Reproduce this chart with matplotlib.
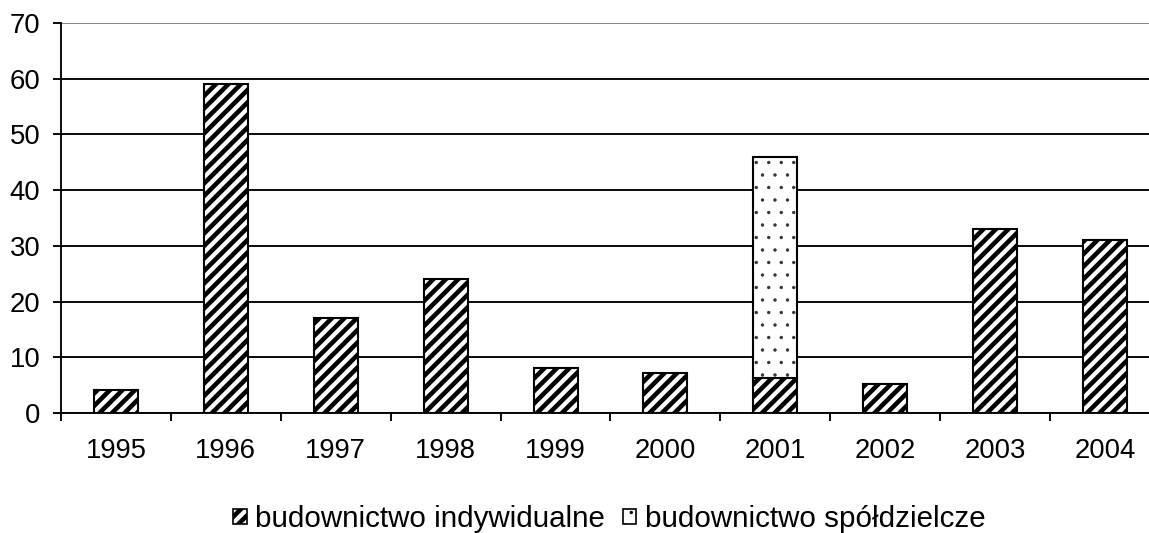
import matplotlib
matplotlib.use("Agg")
import matplotlib.pyplot as plt
import matplotlib.patches as mpatches
import numpy as np

years = ["1995", "1996", "1997", "1998", "1999", "2000", "2001", "2002", "2003", "2004"]
indywidualne = [4.2, 59, 17, 24, 8, 7.2, 6.2, 5.2, 33, 31]
spoldzielcze = [0, 0, 0, 0, 0, 0, 39.7, 0, 0, 0]
series_names = ["budownictwo indywidualne", "budownictwo spółdzielcze"]

plt.rcParams['font.family'] = ['Liberation Sans', 'DejaVu Sans']

STRIPE_LW = 2.2
DOT_LW = 0.4

DPI = 150
fig = plt.figure(figsize=(1149 / DPI, 533 / DPI), dpi=DPI)
ax = fig.add_axes([61 / 1149, 120 / 533, 1099 / 1149, 390 / 533])

x = np.arange(len(years))
indiv = np.array(indywidualne)
coop = np.array(spoldzielcze)
w = 0.4


def set_hlw(patches, lw):
    for p in patches:
        if hasattr(p, "set_hatch_linewidth"):
            p.set_hatch_linewidth(lw)
        else:
            p._hatch_linewidth = lw


with plt.rc_context({"hatch.linewidth": STRIPE_LW}):
    b1 = ax.bar(x, indiv, width=w, color="white", edgecolor="black", hatch="////",
                linewidth=1.0, zorder=3)
set_hlw(b1, STRIPE_LW)

# cooperative part stacked on top, dotted (only where there is something)
m = coop > 0
with plt.rc_context({"hatch.linewidth": DOT_LW}):
    b2 = ax.bar(x[m], coop[m], bottom=indiv[m], width=w, color="white", edgecolor="#333333",
                hatch="..", linewidth=0, zorder=3)
set_hlw(b2, DOT_LW)
ax.bar(x[m], coop[m], bottom=indiv[m], width=w, fill=False, edgecolor="black",
       linewidth=1.0, zorder=4)

ax.set_xlim(-0.5, len(years) - 0.5)
ax.set_ylim(0, 70)
ax.set_yticks(np.arange(0, 71, 10))

ax.set_xticks(np.arange(-0.5, len(years), 1))
ax.set_xticklabels([])
ax.set_xticks(x, minor=True)
ax.set_xticklabels(years, minor=True)
ax.tick_params(axis="x", which="major", direction="out", length=3.9, width=0.9, color="black")
ax.tick_params(axis="x", which="minor", length=0, pad=12, labelsize=13.2)
ax.tick_params(axis="y", direction="out", length=3.9, width=0.9, pad=6, labelsize=13.2)

ax.yaxis.grid(True, color="black", linewidth=0.9)
ax.get_ygridlines()[-1].set_color("#808080")
ax.set_axisbelow(True)

for s in ["top", "right"]:
    ax.spines[s].set_visible(False)
for s in ["left", "bottom"]:
    ax.spines[s].set_linewidth(0.9)
    ax.spines[s].set_zorder(5)

h1 = mpatches.Patch(facecolor="white", edgecolor="black", hatch="////", linewidth=0.8)
h2 = mpatches.Patch(facecolor="white", edgecolor="black", hatch="..", linewidth=0.8)

leg = fig.legend([h1, h2], series_names, loc="center", bbox_to_anchor=(609 / 1149, 14 / 533),
                 ncol=2, frameon=False, fontsize=14.2, handlelength=0.47, handleheight=0.44,
                 handletextpad=0.28, columnspacing=0.6, borderpad=0)
lh = leg.legend_handles
set_hlw([lh[0]], STRIPE_LW)
set_hlw([lh[1]], DOT_LW)

fig.savefig("out.png", dpi=DPI)
